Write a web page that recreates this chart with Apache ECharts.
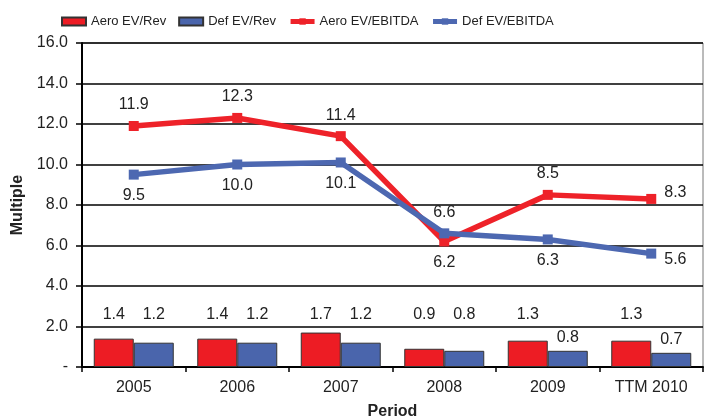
<!DOCTYPE html>
<html><head><meta charset="utf-8">
<script src="https://cdn.jsdelivr.net/npm/echarts@6/dist/echarts.min.js"></script>
<style>html,body{margin:0;padding:0;background:#fff}#c{width:713px;height:417px}</style>
</head><body><div id="c"></div>
<script>
// ---- data ----
const categories = ['2005', '2006', '2007', '2008', '2009', 'TTM 2010'];
const aeroEvRev = [1.4, 1.4, 1.7, 0.9, 1.3, 1.3];
const defEvRev = [1.2, 1.2, 1.2, 0.8, 0.8, 0.7];
const aeroEvEbitda = [11.9, 12.3, 11.4, 6.2, 8.5, 8.3];
const defEvEbitda = [9.5, 10.0, 10.1, 6.6, 6.3, 5.6];
const yTickLabels = ['-', '2.0', '4.0', '6.0', '8.0', '10.0', '12.0', '14.0', '16.0'];

// ---- label styling (not data) ----
const aeroLabelPos = ['top', 'top', 'top', 'bottom', 'top', 'right'];
const defLabelPos = ['bottom', 'bottom', 'bottom', 'top', 'bottom', 'right'];
const aeroLabelDy = [0, 0, 0, 0, 0, -6];
const defLabelDy = [0, 0, 0, 0, 0, 6];
const aeroRevRaised = [true, true, true, true, true, true];
const defRevRaised = [true, true, true, true, false, false];
const BAR_LABEL_BASE = 2.2;

const FONT = "'Liberation Sans', Arial, sans-serif";
const RED = '#ED1C24', BLUE = '#4A65AC';
const RED_L = '#EE2229', BLUE_L = '#4D68B1';

const chart = echarts.init(document.getElementById('c'));
const fmt = p => Number(p.value).toFixed(1);

function lineData(vals, pos, dy) {
  return vals.map((v, i) => ({ value: v, label: { position: pos[i], offset: [0, dy[i]] } }));
}
function barData(vals, raised, dist) {
  return vals.map((v, i) => ({ value: v, label: { distance: raised[i] ? dist(v) : 5 } }));
}

const baseOption = {
  animation: false,
  backgroundColor: '#fff',
  textStyle: { fontFamily: FONT },
  legend: {
    left: 56, top: 10, itemWidth: 24, itemHeight: 8, itemGap: 12,
    textStyle: { fontSize: 13, color: '#222' },
    data: [
      { name: 'Aero EV/Rev', icon: 'rect' },
      { name: 'Def EV/Rev', icon: 'rect' },
      { name: 'Aero EV/EBITDA', lineStyle: { width: 5 } },
      { name: 'Def EV/EBITDA', lineStyle: { width: 5 } }
    ]
  },
  grid: { left: 82, right: 10, top: 43, bottom: 50, show: true, borderColor: '#777', borderWidth: 1, outerBoundsMode: 'none', containLabel: false },
  xAxis: {
    type: 'category', data: categories,
    axisLine: { lineStyle: { color: '#000', width: 2 } },
    axisTick: { show: true, length: 5, lineStyle: { color: '#000', width: 1.5 } },
    axisLabel: { color: '#222', fontSize: 16, margin: 13 },
    name: 'Period', nameLocation: 'middle', nameGap: 37,
    nameTextStyle: { fontWeight: 'bold', fontSize: 16, color: '#222' }
  },
  yAxis: {
    type: 'value', min: 0, max: 16, interval: 2,
    axisLine: { show: true, lineStyle: { color: '#000', width: 2 } },
    axisTick: { show: true, length: 6, lineStyle: { color: '#000', width: 1.5 } },
    splitLine: { lineStyle: { color: '#000', width: 1.5 } },
    axisLabel: { color: '#222', fontSize: 16, margin: 14, formatter: v => yTickLabels[Math.round(v / 2)] },
    name: 'Multiple', nameLocation: 'middle', nameGap: 52,
    nameTextStyle: { fontWeight: 'bold', fontSize: 16, color: '#222' }
  },
  series: [
    {
      name: 'Aero EV/Rev', type: 'bar', barWidth: 40, barGap: '0%',
      itemStyle: { color: RED, borderColor: '#333', borderWidth: 1 },
      label: { show: true, position: 'top', fontSize: 16, color: '#222', formatter: fmt },
      data: aeroEvRev
    },
    {
      name: 'Def EV/Rev', type: 'bar', barWidth: 40, barGap: '0%',
      itemStyle: { color: BLUE, borderColor: '#333', borderWidth: 1 },
      label: { show: true, position: 'top', fontSize: 16, color: '#222', formatter: fmt },
      data: defEvRev
    },
    {
      name: 'Aero EV/EBITDA', type: 'line', symbol: 'rect', symbolSize: 10, z: 5,
      lineStyle: { width: 5.5, color: RED_L }, itemStyle: { color: RED_L },
      label: { show: true, fontSize: 16, color: '#222', distance: 8, formatter: fmt },
      data: lineData(aeroEvEbitda, aeroLabelPos, aeroLabelDy)
    },
    {
      name: 'Def EV/EBITDA', type: 'line', symbol: 'rect', symbolSize: 10, z: 6,
      lineStyle: { width: 5.5, color: BLUE_L }, itemStyle: { color: BLUE_L },
      label: { show: true, fontSize: 16, color: '#222', distance: 8, formatter: fmt },
      data: lineData(defEvEbitda, defLabelPos, defLabelDy)
    }
  ]
};
chart.setOption(baseOption);

const px = v => chart.convertToPixel({ yAxisIndex: 0 }, v);
const dist = v => px(v) - px(BAR_LABEL_BASE);
chart.setOption({
  series: [
    { name: 'Aero EV/Rev', data: barData(aeroEvRev, aeroRevRaised, dist) },
    { name: 'Def EV/Rev', data: barData(defEvRev, defRevRaised, dist) }
  ]
});
</script>
</body></html>
